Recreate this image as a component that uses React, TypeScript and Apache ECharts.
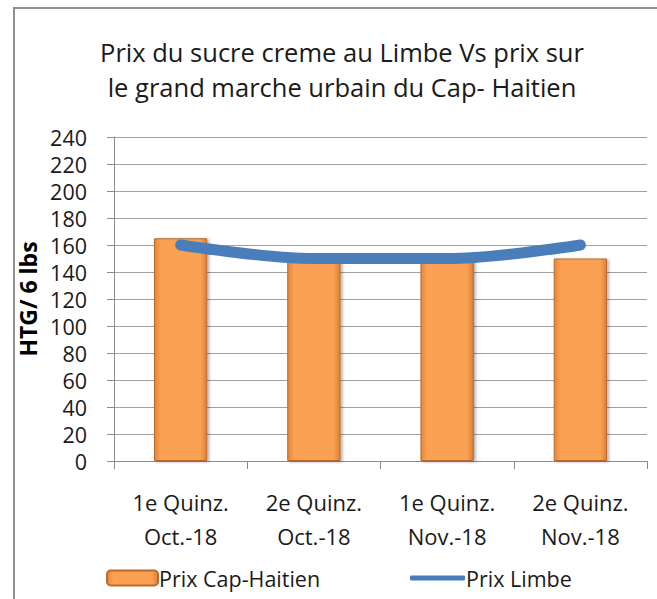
import React, { useEffect, useRef } from "react";
import * as echarts from "echarts";

const categories = ["1e Quinz.\nOct.-18", "2e Quinz.\nOct.-18", "1e Quinz.\nNov.-18", "2e Quinz.\nNov.-18"];
const prixCapHaitien = [165, 150, 150, 150];
const prixLimbe = [160, 150, 150, 160];
const yTicks = { min: 0, max: 240, interval: 20 };
const titleText = "Prix du sucre creme au Limbe Vs prix sur\nle grand marche urbain du Cap- Haitien";
const yAxisName = "HTG/ 6 lbs";

const FONT = "'Open Sans', Lato, sans-serif";

export default function App() {
  const ref = useRef<HTMLDivElement>(null);
  useEffect(() => {
    if (!ref.current) return;
    const chart = echarts.init(ref.current, undefined, { renderer: "svg" });
    const barFill = new echarts.graphic.LinearGradient(0, 0, 1, 0, [
      { offset: 0, color: "#E5843A" },
      { offset: 0.12, color: "#FBA152" },
      { offset: 0.88, color: "#FBA152" },
      { offset: 1, color: "#DD7E35" },
    ]);
    chart.setOption({
      animation: false,
      backgroundColor: "#ffffff",
      textStyle: { fontFamily: FONT },
      title: {
        text: titleText,
        left: 337,
        top: 29,
        textAlign: "center",
        textStyle: { fontFamily: FONT, fontSize: 25.5, fontWeight: "normal", color: "#1a1a1a", lineHeight: 35 },
      },
      graphic: [
        {
          type: "rect",
          shape: { x: 14, y: 8, width: 720, height: 720 },
          style: { fill: "none", stroke: "#8f8f8f", lineWidth: 2 },
          silent: true,
        },
      ],
      legend: [
        {
          data: ["Prix Cap-Haitien"],
          left: 101,
          top: 562,
          itemWidth: 51,
          itemHeight: 15,
          itemGap: 6,
          textStyle: { fontFamily: FONT, fontSize: 21.5, color: "#1a1a1a", padding: [0, 0, 0, -4] },
        },
        {
          data: [{ name: "Prix Limbe", icon: "roundRect" }],
          left: 405,
          top: 562,
          itemWidth: 55,
          itemHeight: 5,
          itemStyle: { color: "#4A7EBB" },
          textStyle: { fontFamily: FONT, fontSize: 21.5, color: "#1a1a1a", padding: [0, 0, 0, -4] },
        },
      ],
      grid: { left: 114, right: 10, top: 137, bottom: 138 },
      xAxis: {
        type: "category",
        data: categories,
        boundaryGap: true,
        axisLine: { lineStyle: { color: "#8c8c8c", width: 1 } },
        axisTick: { show: true, length: 8, alignWithLabel: false, lineStyle: { color: "#8c8c8c" } },
        axisLabel: { fontFamily: FONT, fontSize: 22, color: "#1a1a1a", lineHeight: 34, margin: 24, interval: 0 },
      },
      yAxis: {
        type: "value",
        min: yTicks.min,
        max: yTicks.max,
        interval: yTicks.interval,
        name: yAxisName,
        nameLocation: "middle",
        nameGap: 68,
        nameTextStyle: { fontFamily: FONT, fontSize: 23, fontWeight: "bold", color: "#000" },
        axisLine: { show: true, lineStyle: { color: "#8c8c8c", width: 1 } },
        axisTick: { show: true, length: 7, lineStyle: { color: "#8c8c8c" } },
        axisLabel: { fontFamily: FONT, fontSize: 21.5, lineHeight: 22, color: "#1a1a1a", margin: 27 },
        splitLine: { show: true, lineStyle: { color: "#a0a0a0", width: 1 } },
      },
      series: [
        {
          name: "Prix Cap-Haitien",
          type: "bar",
          data: prixCapHaitien,
          barWidth: "40%",
          itemStyle: {
            color: barFill,
            borderColor: "#B96A2C",
            borderWidth: 1,
            shadowColor: "rgba(0,0,0,0.3)",
            shadowBlur: 3,
            shadowOffsetX: 2,
            shadowOffsetY: 1,
          },
        },
        {
          name: "Prix Limbe",
          type: "line",
          data: prixLimbe,
          smooth: 0.35,
          symbol: "none",
          itemStyle: { color: "#4A7EBB" },
          lineStyle: { color: "#4A7EBB", width: 11, cap: "round" },
        },
      ],
    });
    return () => chart.dispose();
  }, []);
  return <div ref={ref} style={{ position: "absolute", left: 0, top: 0, width: 657, height: 599 }} />;
}
